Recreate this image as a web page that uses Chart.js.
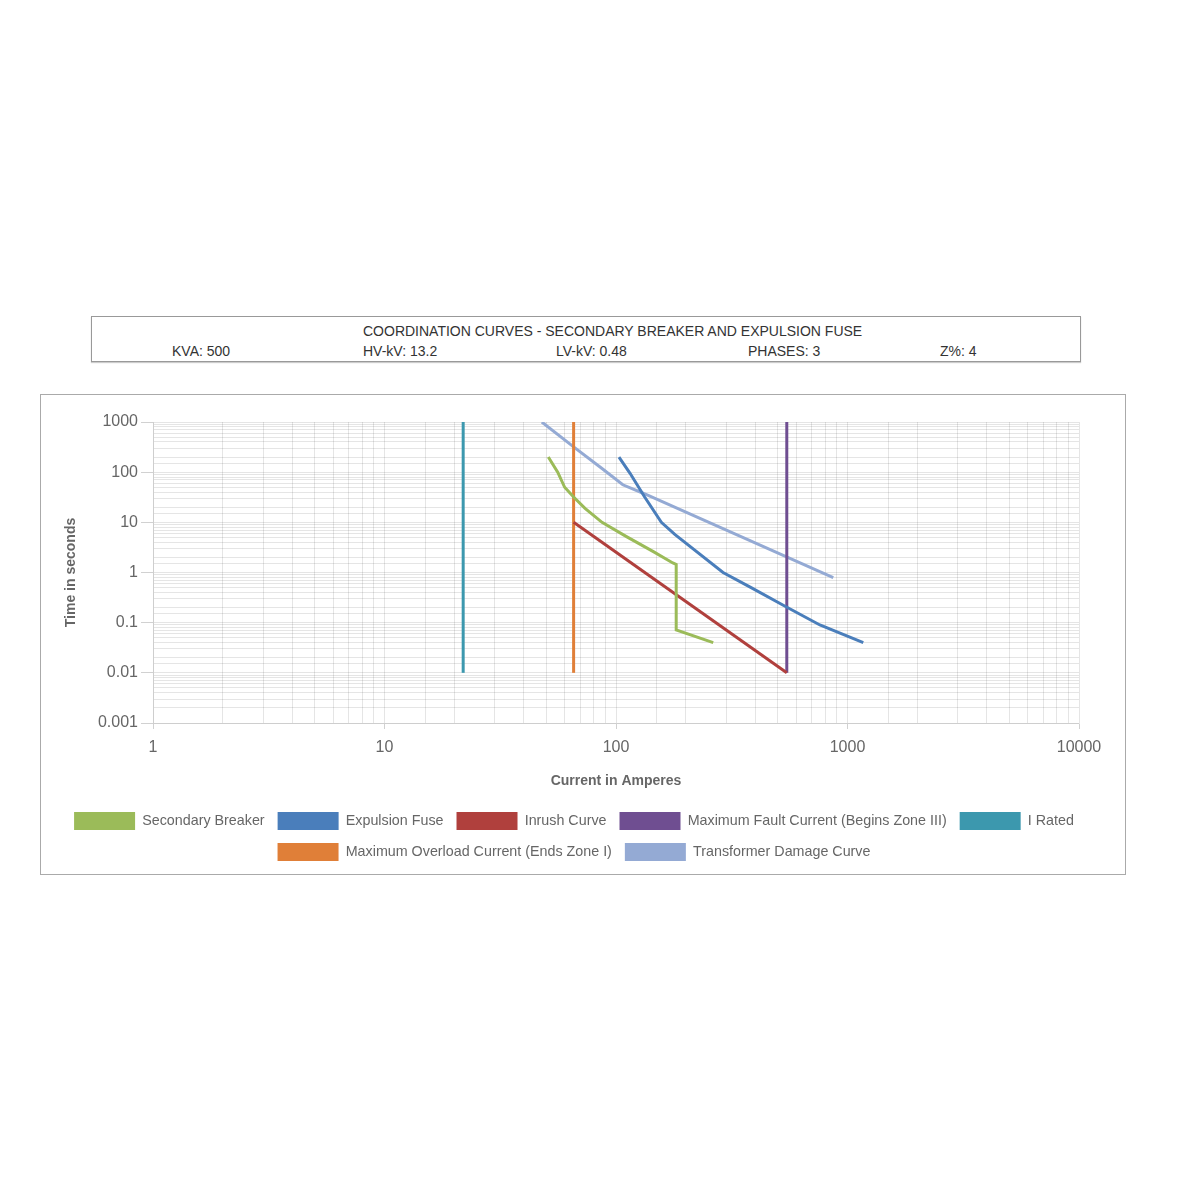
<!DOCTYPE html>
<html>
<head>
<meta charset="utf-8">
<script src="https://cdn.jsdelivr.net/npm/chart.js@4.4.1/dist/chart.umd.min.js"></script>
<style>
    body { margin: 0; background: #fff; font-family: "Liberation Sans", Arial, sans-serif; }
    .header { position: absolute; left: 91px; top: 316px; width: 988px; height: 44px; border: 1px solid #999; box-shadow: 0 1px 1px #ccc; }
    .header span { position: absolute; font-size: 14px; color: #333; white-space: nowrap; line-height: 16px; }
    .frame { position: absolute; left: 40px; top: 394px; width: 1084px; height: 479px; border: 1px solid #aaa; }
</style>
</head>
<body>
<div class="header">
    <span style="left:271px; top:6px">COORDINATION CURVES - SECONDARY BREAKER AND EXPULSION FUSE</span>
    <span style="left:80px; top:26px">KVA: 500</span>
    <span style="left:271px; top:26px">HV-kV: 13.2</span>
    <span style="left:464px; top:26px">LV-kV: 0.48</span>
    <span style="left:656px; top:26px">PHASES: 3</span>
    <span style="left:848px; top:26px">Z%: 4</span>
</div>
<div class="frame"><canvas id="tcc"></canvas></div>
<script>
// currents in amperes / times in seconds
const breakerAmps = [51, 56, 60, 65.6, 73.5, 87, 111, 145, 176, 182, 182, 263];
const breakerSecs = [200, 100, 50, 32, 19, 10, 5.2, 2.6, 1.55, 1.45, 0.072, 0.04];

const fuseAmps = [103, 115, 133, 157, 180, 290, 380, 540, 760, 1170];
const fuseSecs = [200, 95, 32, 10, 5.7, 1.0, 0.51, 0.21, 0.09, 0.04];

const inrushAmps = [65.6, 546.7];
const inrushSecs = [10, 0.01];

const faultAmps = [546.7, 546.7];
const faultSecs = [0.01, 1000];

const ratedAmps = [21.87, 21.87];
const ratedSecs = [0.01, 1000];

const overloadAmps = [65.6, 65.6];
const overloadSecs = [0.01, 1000];

const damageAmps = [47.8, 65.6, 87, 107, 131, 868];
const damageSecs = [1000, 320, 118, 56, 38, 0.79];

const xMin = 1, xMax = 10000;
const yMin = 0.001, yMax = 1000;

const zip = (xs, ys) => xs.map((x, i) => ({x, y: ys[i]}));

const isDecade = v => {
    const e = Math.log10(v);
    return Math.abs(e - Math.round(e)) < 1e-6;
};
const decadeLabel = v => isDecade(v) ? String(+v.toPrecision(1)) : '';

function series(label, xs, ys, color) {
    return {
        label,
        data: zip(xs, ys),
        borderColor: color,
        backgroundColor: color,
        borderWidth: 3,
        pointRadius: 0,
        tension: 0,
        fill: false
    };
}

const fontFamily = '"Liberation Sans", Arial, sans-serif';
const gridColor = 'rgba(0,0,0,0.1)';
const tickMarkColor = ctx => (ctx.tick && isDecade(ctx.tick.value)) ? 'rgba(0,0,0,0.18)' : 'rgba(0,0,0,0)';

new Chart(document.getElementById('tcc'), {
    type: 'line',
    data: {
        datasets: [
            series('Secondary Breaker', breakerAmps, breakerSecs, '#9bbb59'),
            series('Expulsion Fuse', fuseAmps, fuseSecs, '#4a7ebb'),
            series('Inrush Curve', inrushAmps, inrushSecs, '#b0403d'),
            series('Maximum Fault Current (Begins Zone III)', faultAmps, faultSecs, '#6f4e91'),
            series('I Rated', ratedAmps, ratedSecs, '#3c98ae'),
            series('Maximum Overload Current (Ends Zone I)', overloadAmps, overloadSecs, '#e07f38'),
            series('Transformer Damage Curve', damageAmps, damageSecs, '#94aad4')
        ]
    },
    options: {
        responsive: true,
        maintainAspectRatio: false,
        animation: false,
        layout: {padding: {left: 6, right: 24, top: 27, bottom: 3}},
        scales: {
            x: {
                type: 'logarithmic',
                min: xMin,
                max: xMax,
                afterFit: s => { s.height = 76; s.paddingRight = 46; },
                grid: {color: gridColor, tickColor: tickMarkColor, tickLength: 6},
                border: {color: gridColor},
                ticks: {
                    autoSkip: false,
                    maxRotation: 0,
                    padding: 9,
                    color: '#666',
                    font: {size: 16, family: fontFamily},
                    callback: decadeLabel
                },
                title: {
                    display: true,
                    text: 'Current in Amperes',
                    color: '#666',
                    padding: {top: 0, bottom: 9},
                    font: {size: 14, weight: 'bold', family: fontFamily}
                }
            },
            y: {
                type: 'logarithmic',
                min: yMin,
                max: yMax,
                afterFit: s => { s.width = 106; },
                grid: {color: gridColor, tickColor: tickMarkColor, tickLength: 12},
                border: {color: gridColor},
                ticks: {
                    autoSkip: false,
                    padding: 3,
                    color: '#666',
                    font: {size: 16, family: fontFamily},
                    callback: decadeLabel
                },
                title: {
                    display: true,
                    text: 'Time in seconds',
                    color: '#666',
                    padding: {top: 16, bottom: 0},
                    font: {size: 14, weight: 'bold', family: fontFamily}
                }
            }
        },
        plugins: {
            legend: {
                position: 'bottom',
                labels: {
                    boxWidth: 61,
                    boxHeight: 18,
                    padding: 13,
                    color: '#666',
                    font: {size: 14.3, family: fontFamily},
                    generateLabels: chart => Chart.defaults.plugins.legend.labels.generateLabels(chart)
                        .map(item => Object.assign(item, {lineWidth: 0}))
                }
            },
            tooltip: {enabled: false}
        }
    }
});
</script>
</body>
</html>
